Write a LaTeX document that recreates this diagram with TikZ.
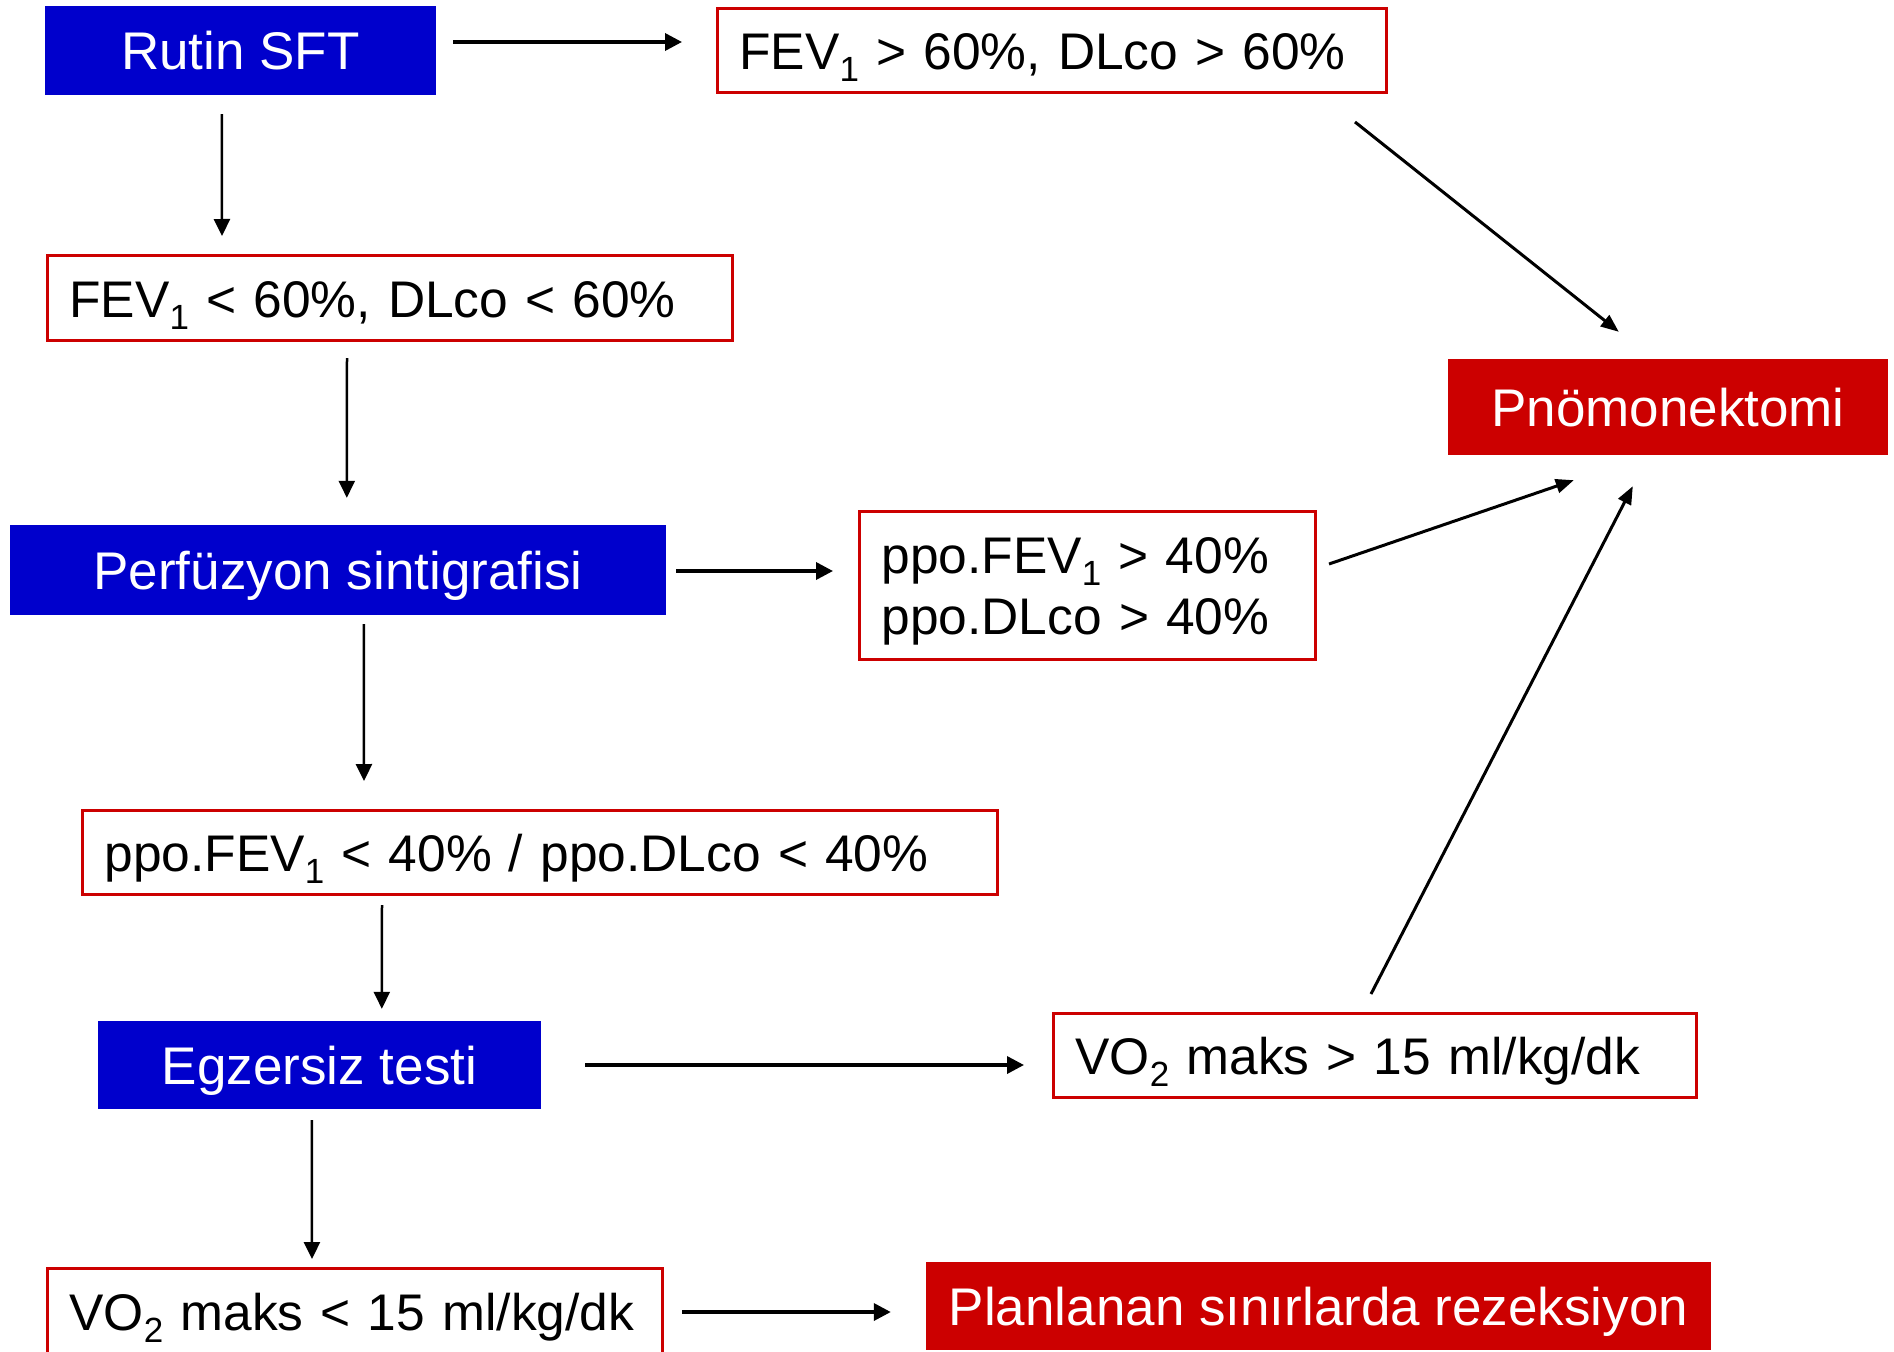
\documentclass[tikz,border=0pt]{standalone}
\usepackage{fontspec}
\setmainfont{Liberation Sans}
\usetikzlibrary{arrows.meta,calc}
\definecolor{boxblue}{HTML}{0000CC}
\definecolor{boxred}{HTML}{CC0000}
% lowered, smaller index digit (FEV1, VO2)
\newcommand{\sbs}[1]{\raisebox{-12pt}{\fontsize{35}{35}\selectfont #1}}

\begin{document}
\begin{tikzpicture}[x=1pt,y=-1pt,
  txt/.style={font=\fontsize{53}{61}\selectfont\frenchspacing, inner sep=0pt},
  ctxt/.style={font=\fontsize{51.5}{61}\selectfont\frenchspacing, inner sep=0pt},
  oneline/.style={text height=38pt, text depth=0pt},
  stepfill/.style={txt, oneline, fill=boxblue, text=white, align=center},
  result/.style={txt, oneline, fill=boxred, text=white, align=center},
  condframe/.style={ctxt, draw=boxred, line width=3pt, fill=white, inner xsep=22pt, align=left},
  cond/.style={condframe, oneline},
  harrow/.style={line width=3.5pt, -{Triangle[length=17pt,width=17pt]}},
  varrow/.style={line width=2.5pt, -{Triangle[length=17pt,width=16pt]}},
  darrow/.style={line width=3pt, -{Triangle[length=18pt,width=14pt]}},
]
\useasboundingbox (0,0) rectangle (1894,1351);
\fill[white] (0,0) rectangle (1894,1351);

% boxes
\node[stepfill, minimum width=391pt, minimum height=89pt] (rutin) at (240.5,50.5) {Rutin SFT};
\node[cond, text width=625pt, minimum height=84pt] (fevhi) at (1052,50.5)
  {\mbox{FEV\sbs{1} > 60\%, DLco > 60\%}};
\node[cond, text width=641pt, minimum height=85pt] (fevlo) at (390,298)
  {\mbox{FEV\sbs{1} < 60\%, DLco < 60\%}};
\node[stepfill, minimum width=656pt, minimum height=90pt] (perf) at (338,570) {Perfüzyon sintigrafisi};
% two lines: first baseline 12.5pt above the centre, second one 61pt lower
\node[condframe, text height=38pt, text depth=63pt, text width=412pt, minimum height=148pt] (ppohi) at (1087.5,585.5)
  {\mbox{ppo.FEV\sbs{1} > 40\%}\\\mbox{ppo.DLco > 40\%}};
\node[result, minimum width=440pt, minimum height=96pt] (pnom) at (1668,407) {Pnömonektomi};
\node[cond, text width=871pt, minimum height=84pt] (ppolo) at (540,852.5)
  {\mbox{ppo.FEV\sbs{1} < 40\% / ppo.DLco < 40\%}};
\node[stepfill, minimum width=443pt, minimum height=88pt] (egz) at (319.5,1065) {Egzersiz testi};
\node[cond, text width=599pt, minimum height=84pt] (vohi) at (1375,1055.5)
  {\mbox{VO\sbs{2} maks > 15 ml/kg/dk}};
\node[cond, text width=571pt, minimum height=85pt] (volo) at (355,1311)
  {\mbox{VO\sbs{2} maks < 15 ml/kg/dk}};
\node[result, minimum width=785pt, minimum height=88pt] (plan) at (1318.5,1306) {Planlanan sınırlarda rezeksiyon};

% connectors
\draw[harrow] ($(rutin.east)+(17,-8.5)$) -- ($(fevhi.west)+(-34,-8.5)$);
\draw[varrow] ($(rutin.south west)+(177,19)$) -- ($(fevlo.north west)+(176,-18)$);
\draw[varrow] ($(fevlo.south west)+(301,16)$) -- ($(perf.north west)+(337,-27)$);
\draw[harrow] ($(perf.east)+(10,1)$) -- ($(ppohi.west)+(-25,-14.5)$);
\draw[varrow] ($(perf.south west)+(354,9)$) -- ($(ppolo.north west)+(283,-28)$);
\draw[varrow] ($(ppolo.south west)+(301,9)$) -- ($(egz.north west)+(284,-12)$);
\draw[harrow] ($(egz.east)+(44,0)$) -- ($(vohi.west)+(-28,9.5)$);
\draw[varrow] ($(egz.south west)+(214,11)$) -- ($(volo.north west)+(266,-8)$);
\draw[harrow] ($(volo.east)+(18,1)$) -- ($(plan.west)+(-35,6)$);
\draw[darrow] ($(fevhi.south east)+(-33,28)$) -- ($(pnom.north west)+(171,-27)$);
\draw[darrow] ($(ppohi.north east)+(12,54)$) -- ($(pnom.south west)+(126,25)$);
\draw[darrow] ($(vohi.north west)+(319,-18)$) -- ($(pnom.south west)+(185,31)$);
\end{tikzpicture}
\end{document}
